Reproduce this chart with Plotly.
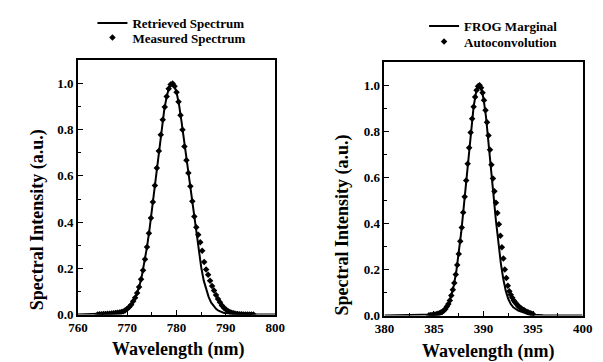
import plotly.graph_objects as go

# ---------------- data ----------------
# Left panel: Retrieved spectrum (line)
retrieved_x = [760, 762, 764, 766, 767, 768, 768.5, 769, 769.5, 770,
               770.5, 771, 771.5, 772, 772.5, 773, 773.5, 774, 774.5, 775,
               775.5, 776, 776.5, 777, 777.5, 778, 778.5, 779, 779.5, 780,
               780.5, 781, 781.5, 782, 782.5, 783, 783.5, 784, 784.5, 785,
               785.5, 786, 786.5, 787, 787.5, 788, 788.5, 789, 789.5, 790,
               791, 792, 794, 796, 800]
retrieved_y = [0.000, 0.001, 0.002, 0.004, 0.006, 0.008, 0.010, 0.013, 0.018, 0.025,
               0.036, 0.050, 0.069, 0.094, 0.127, 0.172, 0.227, 0.292, 0.367, 0.451,
               0.541, 0.634, 0.726, 0.812, 0.886, 0.944, 0.983, 1.000, 0.992, 0.962,
               0.908, 0.836, 0.755, 0.675, 0.598, 0.513, 0.438, 0.370, 0.285, 0.205,
               0.148, 0.108, 0.077, 0.053, 0.036, 0.025, 0.017, 0.012, 0.008, 0.006,
               0.004, 0.002, 0.001, 0.000, 0.000]

# Left panel: Measured spectrum (markers)
measured_x = [764.0, 764.4, 764.8, 765.2, 765.6, 766.0, 766.4, 766.8, 767.2, 767.6,
              768.0, 768.4, 768.8, 769.2, 769.6, 770.0, 770.4, 770.8, 771.2, 771.6,
              772.0, 772.4, 772.8, 773.2, 773.6, 774.0, 774.4, 774.8, 775.2, 775.6,
              776.0, 776.4, 776.8, 777.2, 777.6, 778.0, 778.4, 778.8, 779.2, 779.6,
              780.0, 780.4, 780.8, 781.2, 781.6, 782.0, 782.4, 782.8, 783.2, 783.6,
              784.0, 784.4, 784.8, 785.2, 785.6, 786.0, 786.4, 786.8, 787.2, 787.6,
              788.0, 788.4, 788.8, 789.2, 789.6, 790.0, 790.4, 790.8, 791.2, 791.6,
              792.0, 792.4, 792.8, 793.2, 793.6, 794.0, 794.4, 794.8, 795.2, 795.6]
measured_y = [0.001, 0.002, 0.002, 0.003, 0.003, 0.004, 0.004, 0.005, 0.006, 0.007,
              0.008, 0.009, 0.011, 0.014, 0.019, 0.025, 0.033, 0.043, 0.058, 0.073,
              0.094, 0.120, 0.153, 0.192, 0.239, 0.292, 0.352, 0.418, 0.487, 0.559,
              0.634, 0.708, 0.778, 0.843, 0.898, 0.944, 0.977, 0.996, 1.000, 0.988,
              0.962, 0.921, 0.862, 0.800, 0.727, 0.668, 0.613, 0.555, 0.490, 0.425,
              0.378, 0.345, 0.313, 0.276, 0.228, 0.195, 0.172, 0.146, 0.124, 0.104,
              0.085, 0.068, 0.053, 0.040, 0.030, 0.022, 0.016, 0.011, 0.008, 0.006,
              0.004, 0.003, 0.002, 0.002, 0.001, 0.001, 0.001, 0.001, 0.001, 0.001]

# Right panel: FROG marginal (line)
marginal_x = [380, 382, 384, 384.5, 385, 385.5, 385.75, 386, 386.25, 386.5,
              386.75, 387, 387.25, 387.5, 387.75, 388, 388.25, 388.5, 388.75, 389,
              389.25, 389.5, 389.75, 390, 390.25, 390.5, 390.75, 391, 391.25, 391.5,
              391.75, 392, 392.25, 392.5, 392.75, 393, 393.25, 393.5, 394, 394.5,
              395, 396, 398, 400]
marginal_y = [0.000, 0.001, 0.002, 0.003, 0.005, 0.009, 0.014, 0.022, 0.035, 0.055,
              0.087, 0.131, 0.191, 0.268, 0.362, 0.470, 0.587, 0.706, 0.816, 0.907,
              0.971, 0.999, 0.989, 0.942, 0.863, 0.760, 0.645, 0.526, 0.413, 0.311,
              0.226, 0.158, 0.106, 0.072, 0.050, 0.036, 0.028, 0.022, 0.014, 0.008,
              0.004, 0.002, 0.001, 0.000]

# Right panel: Autoconvolution (markers)
autoconv_x = [384.5, 384.65, 384.8, 384.95, 385.1, 385.25, 385.4, 385.55, 385.7, 385.85,
              386.0, 386.15, 386.3, 386.45, 386.6, 386.75, 386.9, 387.05, 387.2, 387.35,
              387.5, 387.65, 387.8, 387.95, 388.1, 388.25, 388.4, 388.55, 388.7, 388.85,
              389.0, 389.15, 389.3, 389.45, 389.6, 389.75, 389.9, 390.05, 390.2, 390.35,
              390.5, 390.65, 390.8, 390.95, 391.1, 391.25, 391.4, 391.55, 391.7, 391.85,
              392.0, 392.15, 392.3, 392.45, 392.6, 392.75, 392.9, 393.05, 393.2, 393.35,
              393.5, 393.65, 393.8, 393.95, 394.1, 394.25, 394.4, 394.55, 394.7, 394.85,
              395.0]
autoconv_y = [0.002, 0.002, 0.003, 0.004, 0.005, 0.006, 0.008, 0.010, 0.013, 0.017,
              0.022, 0.029, 0.039, 0.050, 0.066, 0.087, 0.112, 0.142, 0.178, 0.220,
              0.268, 0.323, 0.383, 0.448, 0.516, 0.587, 0.659, 0.729, 0.795, 0.855,
              0.907, 0.949, 0.979, 0.996, 1.000, 0.989, 0.968, 0.935, 0.892, 0.840,
              0.782, 0.720, 0.655, 0.595, 0.540, 0.490, 0.445, 0.397, 0.347, 0.297,
              0.248, 0.200, 0.163, 0.130, 0.106, 0.090, 0.077, 0.066, 0.057, 0.049,
              0.042, 0.036, 0.031, 0.027, 0.023, 0.019, 0.016, 0.013, 0.010, 0.008,
              0.006]

left_xticks = [760, 770, 780, 790, 800]
right_xticks = [380, 385, 390, 395, 400]
y_ticks = [0.0, 0.2, 0.4, 0.6, 0.8, 1.0]
y_ticklabels = ["0.0", "0.2", "0.4", "0.6", "0.8", "1.0"]

# ---------------- figure ----------------
W, H = 603, 362
FONT = "Liberation Serif, Times New Roman, serif"

fig = go.Figure()

fig.add_trace(go.Scatter(x=retrieved_x, y=retrieved_y, mode="lines",
                         name="Retrieved Spectrum", line=dict(color="black", width=2),
                         xaxis="x", yaxis="y", legend="legend"))
fig.add_trace(go.Scatter(x=measured_x, y=measured_y, mode="markers",
                         name="Measured Spectrum",
                         marker=dict(symbol="diamond", size=5, color="black"),
                         xaxis="x", yaxis="y", legend="legend2"))
fig.add_trace(go.Scatter(x=marginal_x, y=marginal_y, mode="lines",
                         name="FROG Marginal", line=dict(color="black", width=2),
                         xaxis="x2", yaxis="y2", legend="legend3"))
fig.add_trace(go.Scatter(x=autoconv_x, y=autoconv_y, mode="markers",
                         name="Autoconvolution",
                         marker=dict(symbol="diamond", size=5, color="black"),
                         xaxis="x2", yaxis="y2", legend="legend4"))

tickfont = dict(family=FONT, size=13, color="black", weight="bold")

def xax(domain, rng, ticks, minor_dt, anchor):
    return dict(domain=domain, range=rng, tickvals=ticks, ticktext=[str(t) for t in ticks],
                ticks="inside", ticklen=5, tickwidth=1.2, tickcolor="black",
                minor=dict(ticks="inside", dtick=minor_dt, tick0=rng[0], ticklen=3,
                           tickwidth=1, tickcolor="black"),
                showline=True, linecolor="black", linewidth=1.5, mirror=True,
                showgrid=False, zeroline=False, tickfont=tickfont, anchor=anchor)

def yax(domain, anchor):
    return dict(domain=domain, range=[0, 1.1], tickvals=y_ticks, ticktext=y_ticklabels,
                ticks="inside", ticklen=5, tickwidth=1.2, tickcolor="black",
                minor=dict(ticks="inside", dtick=0.1, tick0=0, ticklen=3,
                           tickwidth=1, tickcolor="black"),
                showline=True, linecolor="black", linewidth=1.5, mirror=True,
                showgrid=False, zeroline=False, tickfont=tickfont, anchor=anchor)

def leg(left_px, top_px):
    return dict(x=left_px / W, y=1 - top_px / H, xanchor="left", yanchor="top",
                bgcolor="rgba(0,0,0,0)", borderwidth=0,
                font=dict(family=FONT, size=13, color="black", weight="bold"))

fig.update_layout(
    width=W, height=H, autosize=False,
    margin=dict(l=0, r=0, t=0, b=0),
    paper_bgcolor="white", plot_bgcolor="white",
    xaxis=xax([62 / W, 266 / W], [760, 800], left_xticks, 5, "y"),
    yaxis=yax([1 - 313 / H, 1 - 50 / H], "x"),
    xaxis2=xax([379 / W, 584 / W], [380, 400], right_xticks, 2.5, "y2"),
    yaxis2=yax([1 - 314 / H, 1 - 52 / H], "x2"),
    legend=leg(77, -4),
    legend2=leg(77, 11),
    legend3=leg(420, -1),
    legend4=leg(420, 15),
    showlegend=True,
)

title_font = dict(family=FONT, size=18, color="black", weight="bold")
annotations = [
    dict(text="Wavelength (nm)", x=166 / W, y=1 - 349 / H, xref="paper", yref="paper",
         showarrow=False, font=title_font, xanchor="center", yanchor="middle"),
    dict(text="Wavelength (nm)", x=487 / W, y=1 - 351 / H, xref="paper", yref="paper",
         showarrow=False, font=title_font, xanchor="center", yanchor="middle"),
    dict(text="Spectral Intensity (a.u.)", x=21 / W, y=1 - 215 / H, xref="paper",
         yref="paper", showarrow=False, font=title_font, textangle=-90,
         xanchor="center", yanchor="middle"),
    dict(text="Spectral Intensity (a.u.)", x=336 / W, y=1 - 220 / H, xref="paper",
         yref="paper", showarrow=False, font=title_font, textangle=-90,
         xanchor="center", yanchor="middle"),
]
fig.update_layout(annotations=annotations)

fig.write_html("out.html")
